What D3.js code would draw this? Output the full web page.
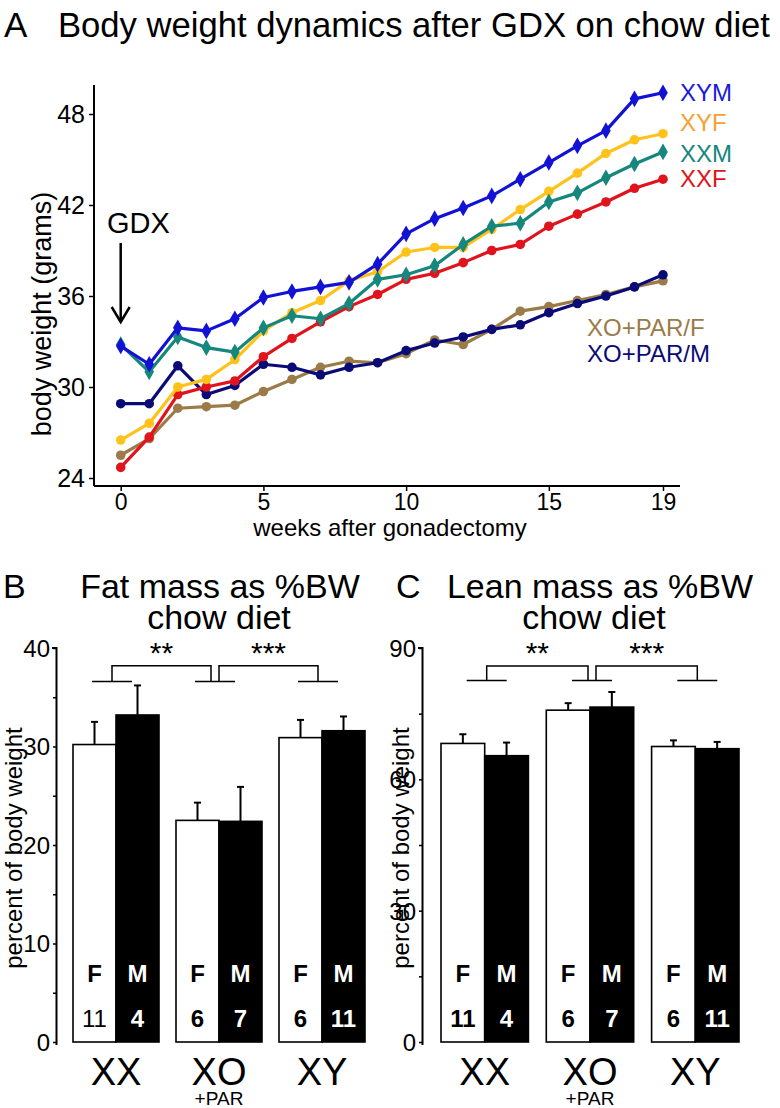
<!DOCTYPE html>
<html><head><meta charset="utf-8">
<script src="https://cdn.jsdelivr.net/npm/d3@7"></script>
<style>
body{margin:0;background:#fff}
svg{display:block}
text{font-family:"Liberation Sans",Arial,sans-serif;fill:#000}
</style>
</head><body>
<svg id="c" width="780" height="1108"></svg>
<script>
// ---------- Panel A data ----------
const weeks = [0,1,2,3,4,5,6,7,8,9,10,11,12,13,14,15,16,17,18,19];
const weekTicks = [0,5,10,15,19];
const weightTicks = [24,30,36,42,48];
const seriesNames = ["XO+PAR/F","XO+PAR/M","XXF","XYF","XXM","XYM"];
const xoparF = [25.5,26.6,28.6,28.7,28.8,29.7,30.5,31.3,31.7,31.6,32.2,33.1,32.8,33.8,35.0,35.3,35.7,36.1,36.6,37.0];
const xoparM = [28.9,28.9,31.4,29.5,30.1,31.5,31.3,30.8,31.3,31.6,32.4,32.9,33.3,33.8,34.1,34.9,35.5,36.0,36.6,37.4];
const xxF    = [24.7,26.7,29.5,30.0,30.4,32.0,33.2,34.3,35.3,36.1,37.1,37.5,38.2,39.0,39.4,40.6,41.4,42.2,43.1,43.7];
const xyF    = [26.5,27.6,30.0,30.5,31.8,33.7,34.9,35.7,37.0,37.6,38.9,39.2,39.2,40.4,41.7,42.9,44.1,45.4,46.3,46.7];
const xxM    = [32.8,31.0,33.3,32.6,32.3,33.9,34.7,34.5,35.5,37.1,37.4,38.0,39.4,40.6,40.8,42.2,42.8,43.8,44.7,45.5];
const xyM    = [32.7,31.5,33.9,33.7,34.5,35.9,36.3,36.6,36.9,38.1,40.1,41.1,41.8,42.6,43.7,44.8,45.9,46.9,49.0,49.4];
const seriesValues = [xoparF, xoparM, xxF, xyF, xxM, xyM];
const lineColors  = ["#9b7b48","#0b0b78","#e0141c","#ffc21a","#15877c","#1212d6"];
const labelColors = ["#9b7b48","#0b0b78","#e0141c","#f5a233","#15877c","#1a1adc"];
const markerShape = ["circle","circle","circle","circle","diamond","diamond"];

// ---------- Panels B/C data ----------
const genotypes = ["XX","XO","XY"];
const genoSub = ["","+PAR",""];
const sexes = ["F","M"];
const fatF = [30.2,22.5,30.9],  fatFse = [2.3,1.8,1.8];
const fatM = [33.2,22.4,31.6],  fatMse = [3.0,3.5,1.45];
const leanF = [68.2,75.8,67.5], leanFse = [2.1,1.6,1.4];
const leanM = [65.4,76.5,67.0], leanMse = [3.0,3.45,1.55];
const nF = [11,6,6], nM = [4,7,11];
const fatTicks = [0,5,10,15,20,25,30,35,40];
const leanTicks = [0,15,30,45,60,75,90];
const sigMarks = ["**","***"];

const svg = d3.select("#c");

// ================= Panel A =================
svg.append("text").attr("x",4).attr("y",37).attr("font-size",35)
  .attr("font-family","Liberation Sans Narrow, Liberation Sans").text("A");
svg.append("text").attr("x",58).attr("y",37).attr("font-size",35)
  .attr("font-family","Liberation Sans Narrow, Liberation Sans")
  .attr("textLength",712).attr("lengthAdjust","spacingAndGlyphs")
  .text("Body weight dynamics after GDX on chow diet");

const xA = d3.scaleLinear().domain([0,19]).range([120.7,663]);
const yA = d3.scaleLinear().domain([24,48]).range([478,114]);
const axisXpos = 94, axisYpos = 486;

const gA = svg.append("g");
// y axis
gA.append("line").attr("x1",axisXpos).attr("x2",axisXpos).attr("y1",85).attr("y2",axisYpos)
  .attr("stroke","#000").attr("stroke-width",2);
const yAxisA = gA.append("g").attr("transform",`translate(${axisXpos},0)`)
  .call(d3.axisLeft(yA).tickValues(weightTicks).tickSize(5).tickPadding(4));
yAxisA.select(".domain").remove();
yAxisA.selectAll("line").attr("stroke-width",1.5);
yAxisA.selectAll("text").attr("font-size",25).attr("font-family","Liberation Sans").attr("dy","0.35em");
// x axis
gA.append("line").attr("x1",axisXpos).attr("x2",680).attr("y1",axisYpos).attr("y2",axisYpos)
  .attr("stroke","#000").attr("stroke-width",2);
const xAxisA = gA.append("g").attr("transform",`translate(0,${axisYpos})`)
  .call(d3.axisBottom(xA).tickValues(weekTicks).tickSize(5).tickPadding(3));
xAxisA.select(".domain").remove();
xAxisA.selectAll("line").attr("stroke-width",1.5);
xAxisA.selectAll("text").attr("font-size",23).attr("font-family","Liberation Sans");
gA.append("text").attr("x",390).attr("y",536).attr("text-anchor","middle").attr("font-size",24)
  .text("weeks after gonadectomy");
gA.append("text").attr("transform","translate(51,314) rotate(-90)").attr("text-anchor","middle")
  .attr("font-size",27).text("body weight (grams)");

// GDX arrow
gA.append("text").attr("x",107).attr("y",233).attr("font-size",29).text("GDX");
gA.append("line").attr("x1",xA(0)).attr("x2",xA(0)).attr("y1",243).attr("y2",320)
  .attr("stroke","#000").attr("stroke-width",2.5);
gA.append("path").attr("d",`M${xA(0)-9},307 L${xA(0)},322 L${xA(0)+9},307`)
  .attr("fill","none").attr("stroke","#000").attr("stroke-width",2.5);

// lines
const lineGen = d3.line().x((d,i)=>xA(weeks[i])).y(d=>yA(d));
seriesValues.forEach((vals,k)=>{
  const g = gA.append("g");
  g.append("path").attr("d",lineGen(vals)).attr("fill","none")
    .attr("stroke",lineColors[k]).attr("stroke-width",3.2).attr("stroke-linejoin","round");
  const sym = d3.symbol().type(markerShape[k]==="circle"?d3.symbolCircle:d3.symbolDiamond)
    .size(markerShape[k]==="circle"?72:80);
  g.selectAll("path.m").data(vals).enter().append("path").attr("class","m")
    .attr("transform",(d,i)=>`translate(${xA(weeks[i])},${yA(d)})`)
    .attr("d",sym()).attr("fill",lineColors[k]);
});

// series labels
const labelPos = {"XYM":[680,101],"XYF":[680,131],"XXM":[680,162],"XXF":[680,187],
                  "XO+PAR/F":[587,336],"XO+PAR/M":[587,362]};
seriesNames.forEach((nm,k)=>{
  gA.append("text").attr("x",labelPos[nm][0]).attr("y",labelPos[nm][1])
    .attr("font-size",24).style("fill",labelColors[k]).text(nm);
});

// ================= Panels B & C =================
function barPanel(cfg){
  const g = svg.append("g");
  const y = d3.scaleLinear().domain([0,cfg.max]).range([1042,648]);
  const xg = d3.scaleBand().domain(genotypes).range(cfg.range).paddingInner(cfg.pad).paddingOuter(0);
  const xs = d3.scaleBand().domain(sexes).range([0,xg.bandwidth()]);
  // panel letter and title
  g.append("text").attr("x",cfg.letterX).attr("y",598).attr("font-size",34).text(cfg.letter);
  g.append("text").attr("x",cfg.titleX).attr("y",598).attr("text-anchor","middle").attr("font-size",34).text(cfg.title);
  g.append("text").attr("x",cfg.titleX2).attr("y",629).attr("text-anchor","middle").attr("font-size",34).text("chow diet");
  // axis
  const ax = g.append("g").attr("transform",`translate(${cfg.axisX},0)`)
    .call(d3.axisLeft(y).tickValues(cfg.ticks).tickSize(4).tickPadding(3)
      .tickFormat(d=>cfg.labeled.includes(d)?d:""));
  ax.select(".domain").attr("stroke-width",2).attr("d",`M-0.5,${y(0)+3}V${y(cfg.max)}H-5`);
  ax.selectAll("line").attr("stroke-width",1.5);
  ax.selectAll("text").attr("font-size",24).attr("font-family","Liberation Sans").attr("dy","0.35em");
  g.append("text").attr("transform",`translate(${cfg.ylabX},848) rotate(-90)`).attr("text-anchor","middle")
    .attr("font-size",24).text("percent of body weight");
  // bars
  genotypes.forEach((gt,i)=>{
    const x0 = xg(gt);
    [[cfg.F,cfg.Fse,"F",nF],[cfg.M,cfg.Mse,"M",nM]].forEach(([vals,se,sx,ns])=>{
      const bx = x0 + xs(sx), bw = xs.bandwidth(), v = vals[i];
      const cx = bx + bw/2;
      // error bar
      g.append("line").attr("x1",cx).attr("x2",cx).attr("y1",y(v)).attr("y2",y(v+se[i]))
        .attr("stroke","#000").attr("stroke-width",2);
      g.append("line").attr("x1",cx-3.5).attr("x2",cx+3.5).attr("y1",y(v+se[i])).attr("y2",y(v+se[i]))
        .attr("stroke","#000").attr("stroke-width",2);
      g.append("rect").attr("x",bx).attr("y",y(v)).attr("width",bw).attr("height",y(0)-y(v))
        .attr("fill",sx==="F"?"#fff":"#000").attr("stroke","#000").attr("stroke-width",1.6);
      const col = sx==="F"?"#000":"#fff";
      g.append("text").attr("x",cx).attr("y",982).attr("text-anchor","middle").attr("font-size",24)
        .attr("font-weight","bold").style("fill",col).text(sx);
      const bold = !(cfg.letter==="B" && sx==="F" && i===0);
      g.append("text").attr("x",cx).attr("y",1027).attr("text-anchor","middle").attr("font-size",24)
        .attr("font-weight",bold?"bold":"normal").style("fill",col).text(ns[i]);
    });
    const gc = x0 + xg.bandwidth()/2;
    g.append("text").attr("x",gc).attr("y",1085).attr("text-anchor","middle").attr("font-size",38).text(gt);
    if(genoSub[i]) g.append("text").attr("x",gc).attr("y",1105).attr("text-anchor","middle").attr("font-size",19).text(genoSub[i]);
  });
  // significance brackets
  const yTop = y(cfg.brTop), yBot = y(cfg.brBot);
  const c = genotypes.map(gt=>xg(gt)+xg.bandwidth()/2 + cfg.brShift);
  c.forEach(cc=>{
    g.append("line").attr("x1",cc-20).attr("x2",cc+20).attr("y1",yBot).attr("y2",yBot).attr("stroke","#000").attr("stroke-width",1.5);
  });
  const pairs = [[c[0],c[1]-4],[c[1]+4,c[2]]];
  pairs.forEach(([a,b],k)=>{
    g.append("path").attr("d",`M${a},${yBot}V${yTop}H${b}V${yBot}`).attr("fill","none")
      .attr("stroke","#000").attr("stroke-width",1.5);
    g.append("text").attr("x",(a+b)/2).attr("y",yTop-3).attr("text-anchor","middle").attr("font-size",30)
      .text(sigMarks[k]);
  });
}

barPanel({letter:"B",letterX:3,title:"Fat mass as %BW",titleX:220,titleX2:219,max:40,
  ticks:fatTicks,labeled:[0,10,20,30,40],axisX:57,ylabX:22,range:[73,365],pad:0.165,
  F:fatF,Fse:fatFse,M:fatM,Mse:fatMse,brTop:38.2,brBot:36.6,brShift:-4});
barPanel({letter:"C",letterX:396,title:"Lean mass as %BW",titleX:600,titleX2:594,max:90,
  ticks:leanTicks,labeled:[0,30,60,90],axisX:423,ylabX:409,range:[441,739],pad:0.17,
  F:leanF,Fse:leanFse,M:leanM,Mse:leanMse,brTop:85.9,brBot:82.6,brShift:2});
</script>
</body></html>
